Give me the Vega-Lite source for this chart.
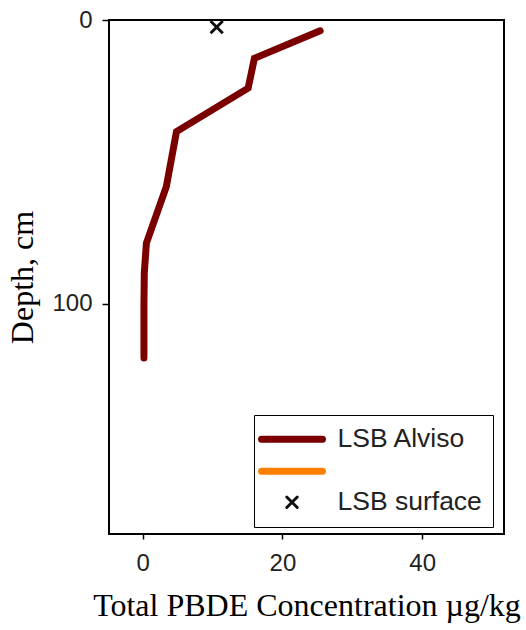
{
  "$schema": "https://vega.github.io/schema/vega-lite/v6.json",
  "width": 395,
  "height": 514,
  "autosize": {"type": "none"},
  "padding": {"left": 109, "top": 20, "right": 22, "bottom": 96},
  "config": {
    "view": {"stroke": "black", "strokeWidth": 2},
    "axis": {
      "grid": false,
      "domain": false,
      "tickColor": "black",
      "tickWidth": 1.5,
      "labelFont": "Liberation Sans",
      "labelFontSize": 24,
      "labelColor": "#222",
      "titleFont": "Liberation Serif",
      "titleFontSize": 32,
      "titleFontWeight": "normal",
      "titleColor": "black"
    }
  },
  "layer": [
    {
      "data": {
        "values": [
          {"series": "LSB Alviso", "conc": 25.4, "depth": 3.8},
          {"series": "LSB Alviso", "conc": 16.0, "depth": 13.5},
          {"series": "LSB Alviso", "conc": 15.1, "depth": 24.0},
          {"series": "LSB Alviso", "conc": 4.85, "depth": 39.3},
          {"series": "LSB Alviso", "conc": 3.4, "depth": 58.7},
          {"series": "LSB Alviso", "conc": 0.55, "depth": 78.6},
          {"series": "LSB Alviso", "conc": 0.25, "depth": 89.0},
          {"series": "LSB Alviso", "conc": 0.2, "depth": 100.0},
          {"series": "LSB Alviso", "conc": 0.2, "depth": 119.0}
        ]
      },
      "mark": {"type": "line", "strokeWidth": 7, "strokeCap": "round"},
      "encoding": {
        "x": {
          "field": "conc",
          "type": "quantitative",
          "scale": {"domain": [-4.8, 51.7], "nice": false, "zero": false},
          "axis": {"values": [0, 20, 40], "tickSize": 5, "labelPadding": 12, "title": "Total PBDE Concentration \u00b5g/kg", "titlePadding": 15}
        },
        "y": {
          "field": "depth",
          "type": "quantitative",
          "scale": {"domain": [0, 181], "nice": false, "zero": false, "reverse": true},
          "axis": {"values": [0, 100], "tickSize": 7, "labelPadding": 10, "title": "Depth, cm", "titlePadding": 12}
        },
        "order": {"field": "depth", "type": "quantitative"},
        "color": {
          "field": "series",
          "type": "nominal",
          "scale": {"domain": ["LSB Alviso", "LSB orange", "LSB surface"], "range": ["#7a0000", "#ff8000", "#111111"]},
          "legend": {
            "title": null,
            "orient": "none",
            "legendX": 145,
            "legendY": 395,
            "strokeColor": "black",
            "padding": 11,
            "rowPadding": 3,
            "symbolType": "stroke",
            "symbolSize": 3721,
            "symbolStrokeWidth": 7,
            "labelFont": "Liberation Sans",
            "labelFontSize": 26.5,
            "labelColor": "#222",
            "labelOffset": 46,
            "labelExpr": "datum.value == 'LSB orange' ? '' : datum.value + '\u00a0'",
            "encode": {
              "symbols": {
                "update": {
                  "x": {"value": 27},
                  "shape": {"signal": "datum.value === 'LSB surface' ? 'M-1,-1L1,1M-1,1L1,-1' : 'stroke'"},
                  "size": {"signal": "datum.value === 'LSB surface' ? 110 : 3721"},
                  "strokeWidth": {"signal": "datum.value === 'LSB surface' ? 3 : 7"},
                  "stroke": {"signal": "datum.value === 'LSB Alviso' ? '#7a0000' : datum.value === 'LSB surface' ? '#111111' : '#ff8000'"},
                  "fill": {"value": "transparent"},
                  "strokeCap": {"value": "round"}
                }
              }
            }
          }
        }
      }
    },
    {
      "data": {
        "values": [
          {"series": "LSB surface", "conc": 10.6, "depth": 2.5}
        ]
      },
      "mark": {"type": "point", "shape": "M-1,-1L1,1M-1,1L1,-1", "size": 150, "strokeWidth": 3, "filled": false, "opacity": 1},
      "encoding": {
        "x": {"field": "conc", "type": "quantitative"},
        "y": {"field": "depth", "type": "quantitative"},
        "color": {"field": "series", "type": "nominal"}
      }
    }
  ]
}
